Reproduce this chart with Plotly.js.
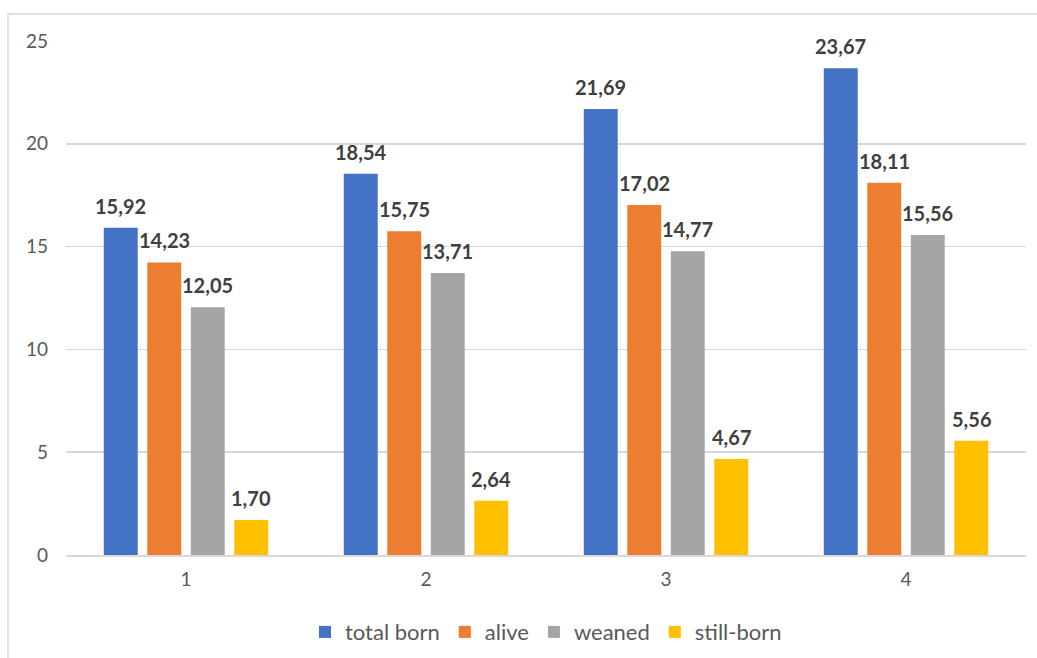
<!DOCTYPE html>
<html>
<head>
<meta charset="utf-8">
<script src="https://cdn.plot.ly/plotly-3.0.1.min.js"></script>
<style>html,body{margin:0;padding:0;background:#fff;}#chart{width:1037px;height:658px;}</style>
</head>
<body>
<div id="chart"></div>
<script>
const categories = ["1", "2", "3", "4"];
const seriesNames = ["total born", "alive", "weaned", "still-born"];
const totalBorn = [15.92, 18.54, 21.69, 23.67];
const alive = [14.23, 15.75, 17.02, 18.11];
const weaned = [12.05, 13.71, 14.77, 15.56];
const stillBorn = [1.70, 2.64, 4.67, 5.56];
const colors = ["#4472C4", "#ED7D31", "#A5A5A5", "#FFC000"];
const yTicks = [0, 5, 10, 15, 20, 25];

const W = 1037, H = 658;
const margin = {l: 66, r: 11, t: 41, b: 103, autoexpand: false};
const bargap = 0.275, bargroupgap = 0.22;
const plotW = W - margin.l - margin.r;
const slotW = plotW / categories.length * (1 - bargap) / seriesNames.length;

const seriesValues = [totalBorn, alive, weaned, stillBorn];
const traces = seriesValues.map((vals, i) => ({
  type: "bar",
  name: seriesNames[i],
  x: categories,
  y: vals,
  marker: {color: colors[i]},
  hoverinfo: "skip"
}));

const fmt = v => v.toFixed(2).replace(".", ",");
const annotations = [];
seriesValues.forEach((vals, i) => {
  vals.forEach((v, j) => {
    annotations.push({
      x: j, y: v, xref: "x", yref: "y",
      text: "<b>" + fmt(v) + "</b>",
      showarrow: false,
      xanchor: "center", yanchor: "bottom",
      xshift: (i - (seriesNames.length - 1) / 2) * slotW,
      yshift: 8,
      font: {family: "Lato, 'Open Sans', sans-serif", size: 20, color: "#404040"}
    });
  });
});

const layout = {
  width: W,
  height: H,
  margin: margin,
  paper_bgcolor: "#ffffff",
  plot_bgcolor: "#ffffff",
  barmode: "group",
  bargap: bargap,
  bargroupgap: bargroupgap,
  font: {family: "Lato, 'Open Sans', sans-serif", color: "#595959", size: 19},
  xaxis: {
    type: "category",
    range: [-0.5, categories.length - 0.5],
    autorange: false,
    showgrid: false,
    showline: true,
    linecolor: "#d9d9d9",
    linewidth: 1.5,
    ticks: "",
    tickfont: {size: 19, color: "#595959"},
    ticklabelstandoff: 7
  },
  yaxis: {
    range: [0, 25],
    tickvals: yTicks,
    showgrid: true,
    gridcolor: "#d9d9d9",
    gridwidth: 1.5,
    zeroline: false,
    showline: false,
    ticks: "",
    tickfont: {size: 19, color: "#595959"},
    ticklabelstandoff: 17
  },
  showlegend: true,
  legend: {
    orientation: "h",
    x: 0.5,
    xanchor: "center",
    y: -0.15,
    yanchor: "middle",
    itemwidth: 30,
    font: {size: 22, color: "#595959"},
    itemclick: false
  },
  annotations: annotations,
  shapes: [{
    type: "rect",
    xref: "paper", yref: "paper",
    x0: -0.0604, x1: 1.2, y0: -0.4, y1: 1.0525,
    line: {color: "#d9d9d9", width: 1.5},
    fillcolor: "rgba(0,0,0,0)",
    layer: "below"
  }]
};

Plotly.newPlot("chart", traces, layout, {staticPlot: true, displayModeBar: false});
</script>
</body>
</html>
